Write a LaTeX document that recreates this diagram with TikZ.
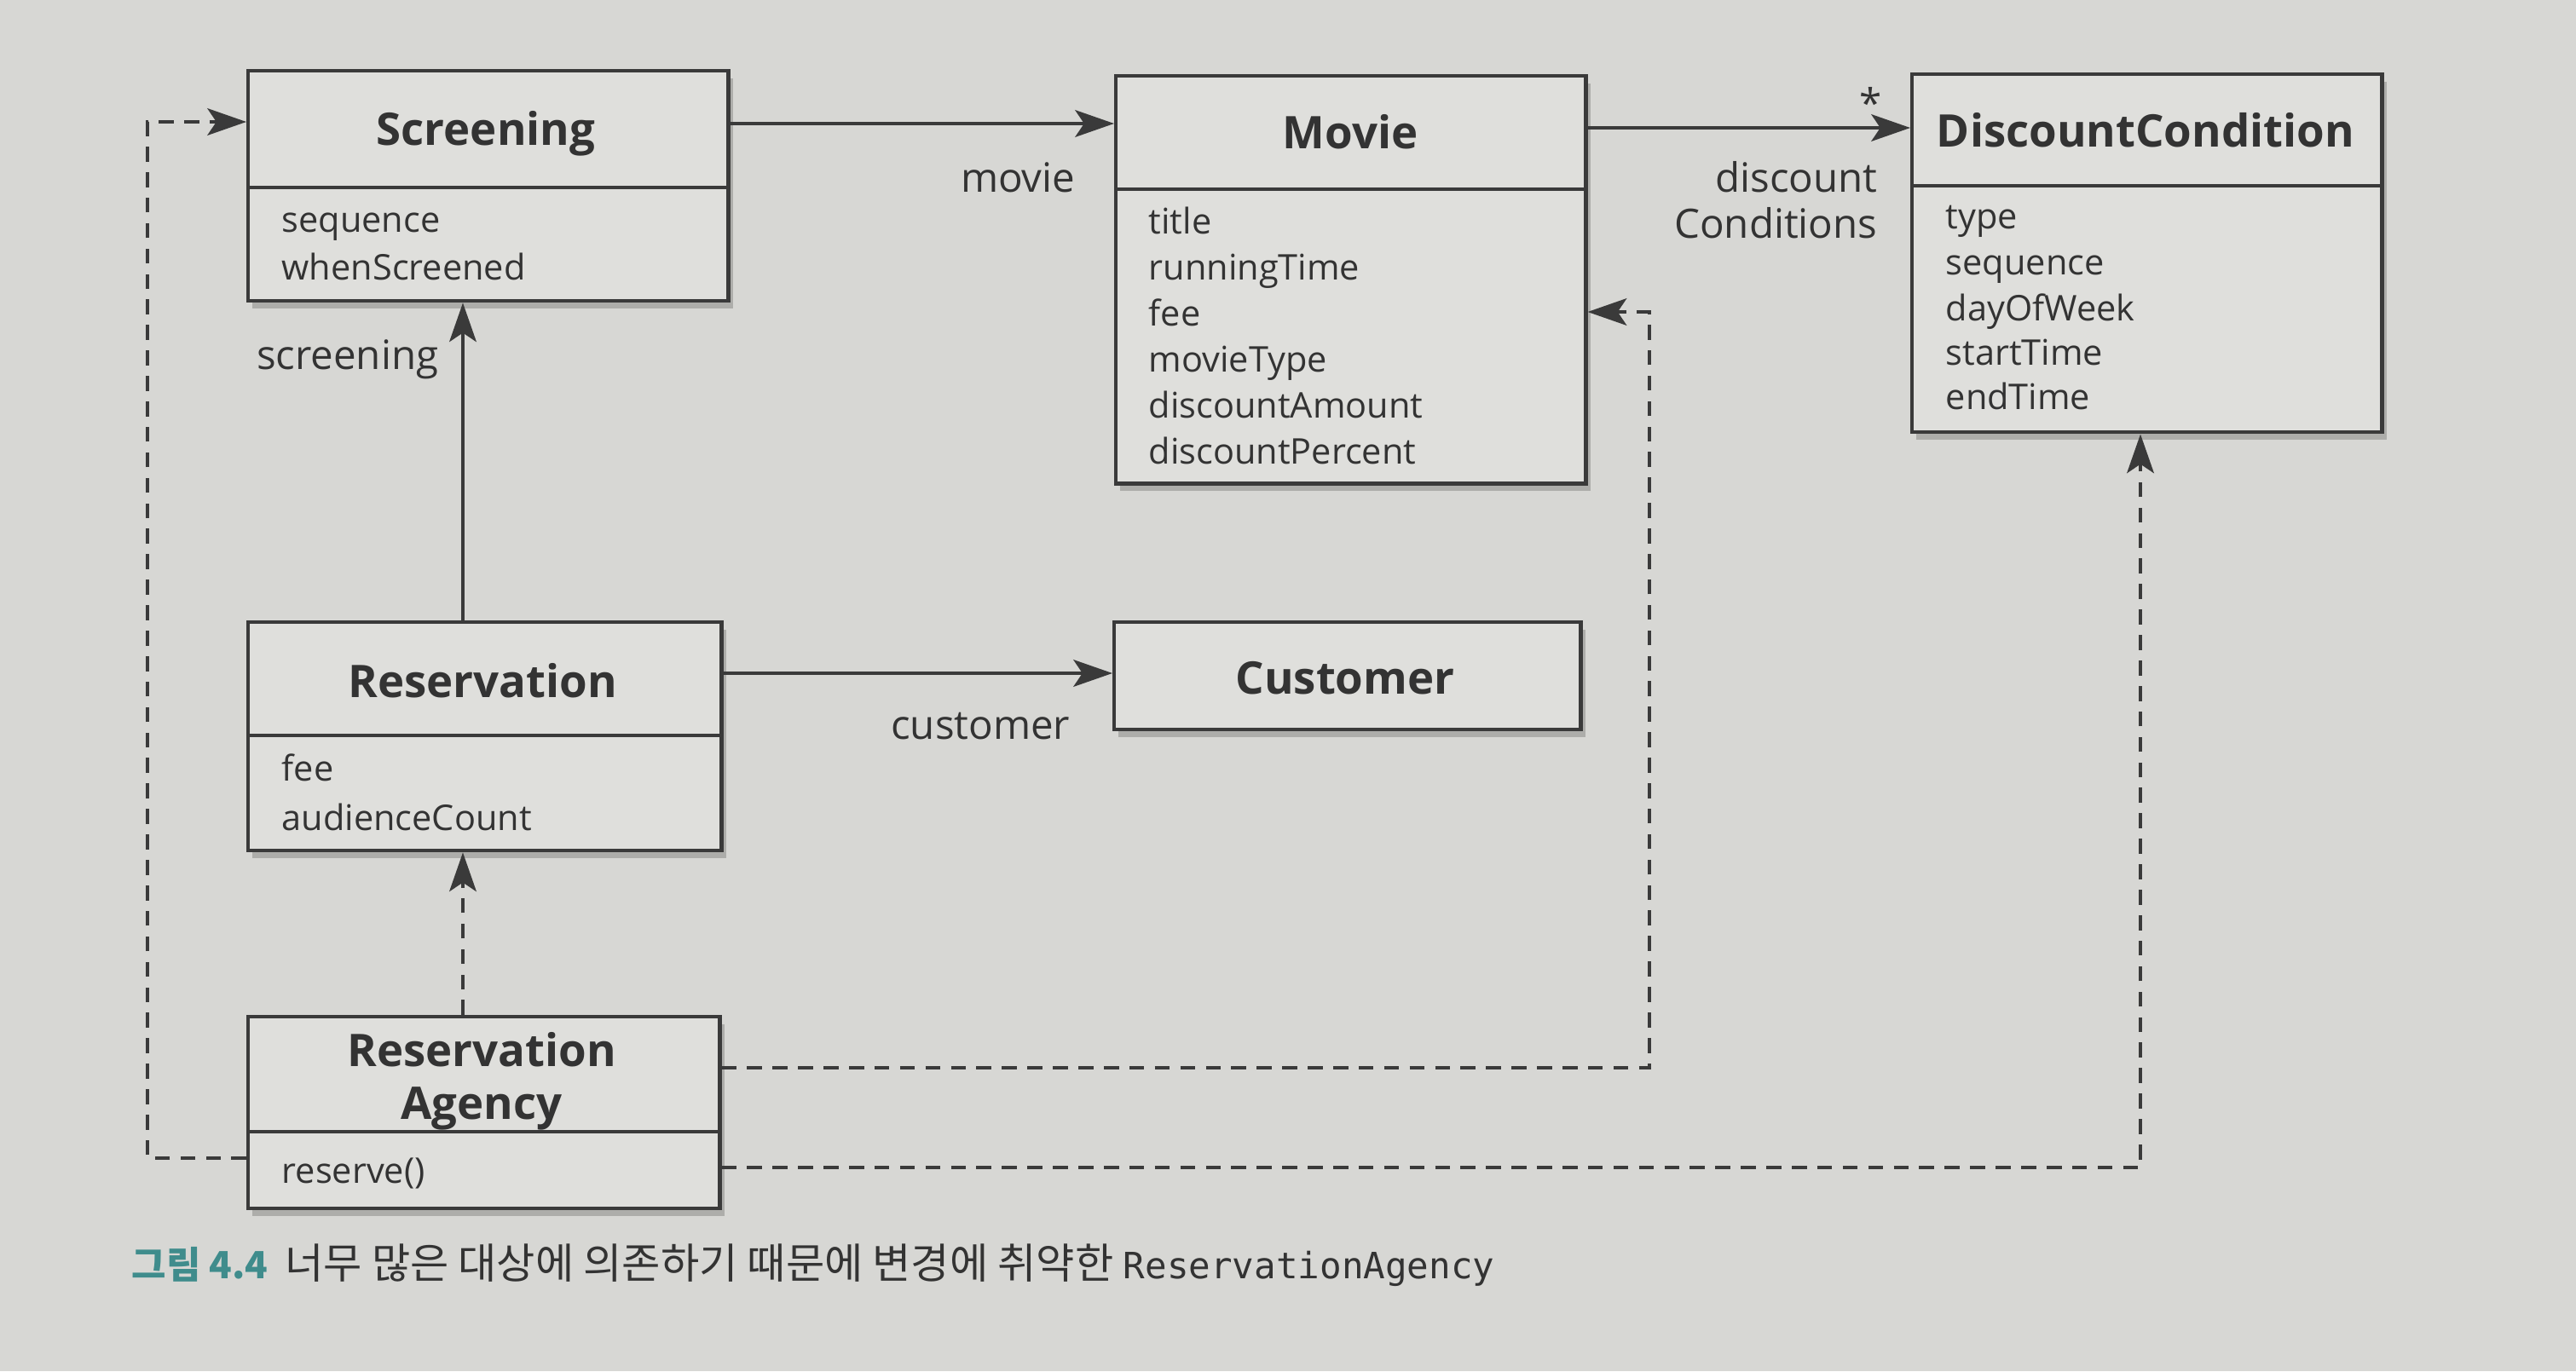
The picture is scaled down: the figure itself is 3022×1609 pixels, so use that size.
\documentclass[tikz,border=0pt]{standalone}
\usepackage{fontspec}
\setmainfont{Open Sans}
\newfontfamily\cjk{Noto Sans CJK KR}
\newfontfamily\monof{DejaVu Sans Mono}
\usetikzlibrary{arrows.meta,shadows}
\definecolor{bgc}{HTML}{D7D7D4}
\definecolor{boxc}{HTML}{DFDFDC}
\definecolor{linec}{HTML}{3A3A3A}
\definecolor{txt}{HTML}{333333}
\definecolor{capc}{HTML}{3F8C8C}
\tikzset{
  cls/.style={draw=linec, line width=1.2pt, fill=boxc, inner sep=0pt,
    drop shadow={shadow xshift=1.5pt, shadow yshift=-2.5pt, opacity=0.3, fill=black!70}},
  divider/.style={draw=linec, line width=1.2pt},
  ctitle/.style={font=\fontsize{15}{18}\selectfont\bfseries, text=txt, inner sep=0pt, anchor=base},
  attr/.style={font=\fontsize{11.8}{14}\selectfont, text=txt, inner sep=0pt, anchor=base west},
  lbl/.style={font=\fontsize{13.5}{16}\selectfont, text=txt, inner sep=0pt, anchor=base east},
  assoc/.style={draw=linec, line width=1.1pt, -{Stealth[length=13pt,width=9pt,inset=3pt]}},
  dep/.style={assoc, dash pattern=on 5pt off 3.5pt},
}
\begin{document}
\begin{tikzpicture}[x=0.01cm,y=-0.01cm]
\useasboundingbox (0,0) rectangle (3022,1609);
\fill[bgc] (0,0) rectangle (3022,1609);

% Screening
\node[cls, minimum width=5.63cm, minimum height=2.70cm, anchor=north west] (scr) at (289,81) {};
\draw[divider] (scr.west |- 0,220) -- (scr.east |- 0,220);
\node[ctitle] (scrT) at (570,170) {Screening};
\node[attr] (scrA1) at (330,272) {sequence};
\node[attr] (scrA2) at (330,328) {whenScreened};

% Movie
\node[cls, minimum width=5.51cm, minimum height=4.78cm, anchor=north west] (mov) at (1307,87) {};
\draw[divider] (mov.west |- 0,222) -- (mov.east |- 0,222);
\node[ctitle] (movT) at (1584,174) {Movie};
\node[attr] (movA1) at (1347,274) {title};
\node[attr] (movA2) at (1347,328) {runningTime};
\node[attr] (movA3) at (1347,382) {fee};
\node[attr] (movA4) at (1347,436) {movieType};
\node[attr] (movA5) at (1347,490) {discountAmount};
\node[attr] (movA6) at (1347,544) {discountPercent};

% DiscountCondition
\node[cls, minimum width=5.51cm, minimum height=4.20cm, anchor=north west] (dc) at (2241,85) {};
\draw[divider] (dc.west |- 0,218) -- (dc.east |- 0,218);
\node[ctitle] (dcT) at (2517,172) {DiscountCondition};
\node[attr] (dcA1) at (2282,268) {type};
\node[attr] (dcA2) at (2282,322) {sequence};
\node[attr] (dcA3) at (2282,376) {dayOfWeek};
\node[attr] (dcA4) at (2282,428) {startTime};
\node[attr] (dcA5) at (2282,480) {endTime};

% Reservation
\node[cls, minimum width=5.55cm, minimum height=2.68cm, anchor=north west] (res) at (289,728) {};
\draw[divider] (res.west |- 0,863) -- (res.east |- 0,863);
\node[ctitle] (resT) at (566,818) {Reservation};
\node[attr] (resA1) at (330,916) {fee};
\node[attr] (resA2) at (330,974) {audienceCount};

% Customer
\node[cls, minimum width=5.47cm, minimum height=1.26cm, anchor=north west] (cus) at (1305,728) {};
\node[ctitle] (cusT) at (1578,814) {Customer};

% ReservationAgency
\node[cls, minimum width=5.53cm, minimum height=2.25cm, anchor=north west] (ag) at (289,1191) {};
\draw[divider] (ag.west |- 0,1328) -- (ag.east |- 0,1328);
\node[ctitle] (agT1) at (565,1251) {Reservation};
\node[ctitle] (agT2) at (565,1313) {Agency};
\node[attr] (agA1) at (330,1388) {reserve()};

% associations
\draw[assoc] (scr.east |- 0,145) -- (mov.west |- 0,145);
\node[lbl] (lmovie) at (1262,225) {movie};
\draw[assoc] (mov.east |- 0,150) -- (dc.west |- 0,150);
\node[lbl, anchor=center] (lstar) at (2195,120) {*};
\node[lbl] (ldisc1) at (2203,225) {discount};
\node[lbl] (ldisc2) at (2203,279) {Conditions};
\draw[assoc] (res.north -| 543,0) -- (scr.south -| 543,0);
\node[lbl] (lscr) at (515,433) {screening};
\draw[assoc] (res.east |- 0,790) -- (cus.west |- 0,790);
\node[lbl] (lcus) at (1256,867) {customer};

% dependencies
\draw[dep] (ag.north -| 543,0) -- (res.south -| 543,0);
\draw[dep] (ag.west |- 0,1359) -- (173,1359) -- (173,143) -- (scr.west |- 0,143);
\draw[dep] (ag.east |- 0,1253) -- (1935,1253) -- (1935,366) -- (mov.east |- 0,366);
\draw[dep] (ag.east |- 0,1370) -- (2511,1370) -- (dc.south -| 2511,0);

% caption
\node[inner sep=0pt, anchor=base west, text=txt, font=\fontsize{12.5}{15}\selectfont] (cap) at (154,1500)
  {{\cjk\bfseries\color{capc}그림 4.4}\hspace{0.45em}{\cjk\fontsize{14}{16}\selectfont 너무 많은 대상에 의존하기 때문에 변경에 취약한} {\monof\fontsize{12.1}{15}\selectfont ReservationAgency}};
\end{tikzpicture}
\end{document}
